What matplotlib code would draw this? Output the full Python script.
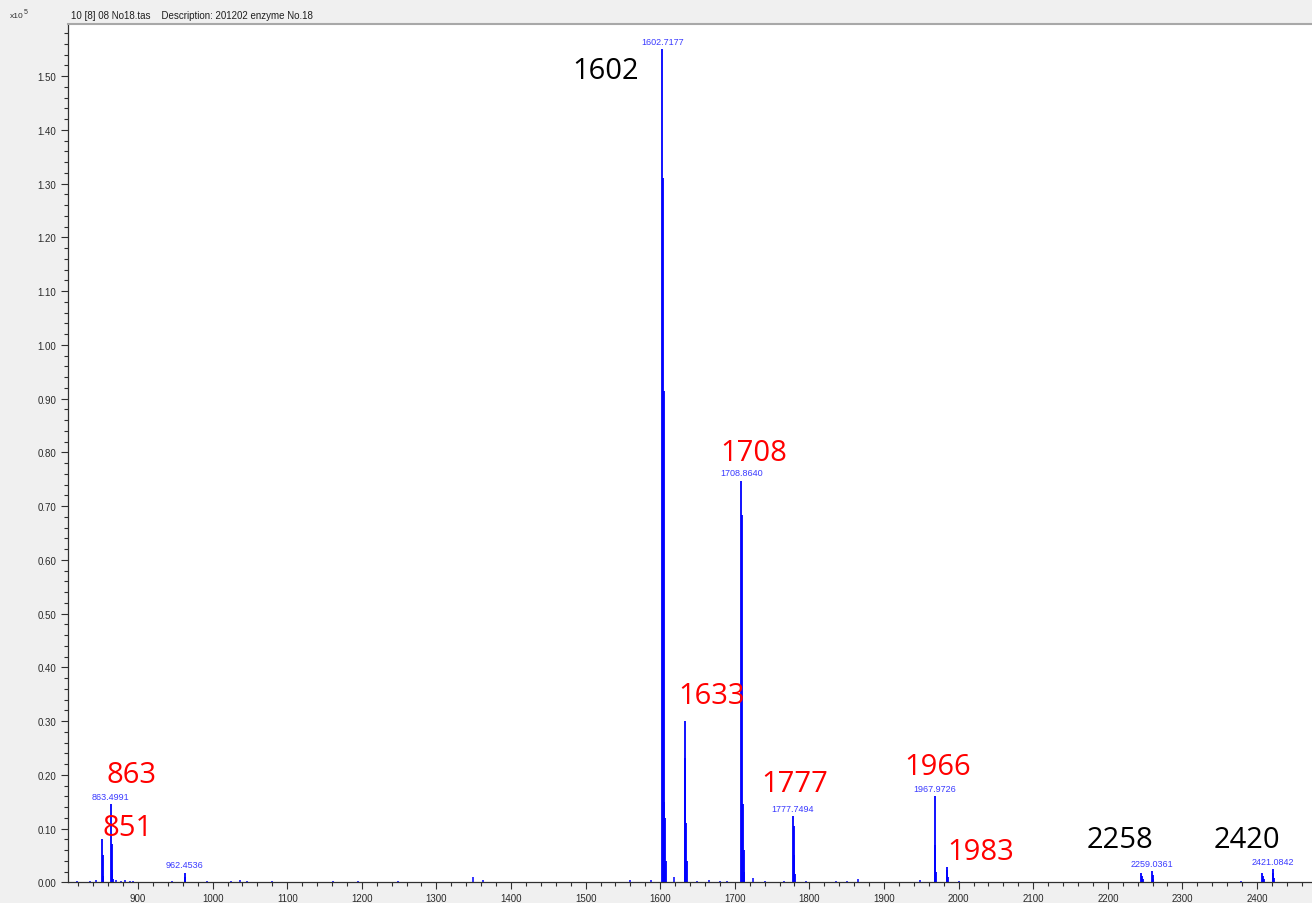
import matplotlib
matplotlib.use("Agg")
import matplotlib.pyplot as plt
from matplotlib.ticker import MultipleLocator, FormatStrFormatter

# ---- spectrum sticks: m/z and intensity (x10^5 counts) ----
peak_mz = [
    851.45, 852.45, 853.45,
    863.4991, 864.50, 865.50, 866.50,
    962.4536, 963.45,
    1602.7177, 1603.72, 1604.72, 1605.72, 1606.72, 1607.72,
    1632.80, 1633.80, 1634.80, 1635.80,
    1708.8640, 1709.86, 1710.86, 1711.86, 1712.86,
    1777.7494, 1778.75, 1779.75, 1780.75,
    1967.9726, 1968.97, 1969.97,
    1983.90, 1984.90, 1985.90,
    2244.90, 2245.90, 2246.90,
    2259.0361, 2260.04, 2261.04,
    2407.10, 2408.10, 2409.10,
    2421.0842, 2422.08, 2423.08,
]
peak_intensity = [
    0.080, 0.050, 0.012,
    0.145, 0.072, 0.022, 0.006,
    0.018, 0.009,
    1.550, 1.310, 0.915, 0.150, 0.120, 0.040,
    0.300, 0.232, 0.110, 0.040,
    0.747, 0.684, 0.145, 0.060, 0.020,
    0.123, 0.104, 0.050, 0.015,
    0.160, 0.069, 0.020,
    0.029, 0.022, 0.010,
    0.018, 0.012, 0.006,
    0.021, 0.014, 0.006,
    0.017, 0.012, 0.006,
    0.024, 0.017, 0.008,
]

# ---- small background signals ----
noise_mz = [818, 835, 844, 871, 877, 883, 889, 893, 945, 992, 1024, 1037,
            1046, 1080, 1162, 1195, 1249, 1349, 1362, 1560, 1587, 1618,
            1649, 1665, 1680, 1690, 1724, 1740, 1766, 1795, 1836, 1851,
            1865, 1948, 2000, 2378]
noise_intensity = [0.003, 0.003, 0.004, 0.004, 0.003, 0.004, 0.003, 0.003,
                   0.003, 0.003, 0.003, 0.004, 0.003, 0.003, 0.002, 0.003,
                   0.003, 0.010, 0.005, 0.004, 0.004, 0.010, 0.003, 0.004,
                   0.003, 0.003, 0.008, 0.003, 0.003, 0.003, 0.003, 0.003,
                   0.006, 0.004, 0.003, 0.003]

# ---- centroid labels printed above peaks ----
labeled_mz = [863.4991, 962.4536, 1602.7177, 1708.8640, 1777.7494,
              1967.9726, 2259.0361, 2421.0842]

# ---- nominal mass annotations ----
annot_text = ["1602", "1708", "1633", "1777", "1966", "1983",
              "863", "851", "2258", "2420"]
annot_color = ["black", "red", "red", "red", "red", "red",
               "red", "red", "black", "black"]
annot_x = [1527.3, 1725.7, 1669.4, 1780.7, 1972.4, 2030.0,
           891.3, 886.6, 2216.4, 2385.9]
annot_y = [1.497, 0.785, 0.334, 0.169, 0.2016, 0.0434,
           0.186, 0.088, 0.0651, 0.0651]

header_text = "10 [8] 08 No18.tas    Description: 201202 enzyme No.18"

small_font = ["Liberation Sans", "DejaVu Sans"]
big_font = ["Open Sans", "Noto Sans", "DejaVu Sans"]

W, H = 1312, 904
fig = plt.figure(figsize=(W / 100, H / 100), dpi=100, facecolor="#f0f0f0")
left_px, top_px, bottom_px = 67.5, 25.0, 883.3
ax = fig.add_axes([left_px / W, (H - bottom_px) / H,
                   1 - left_px / W, (bottom_px - top_px) / H])
ax.set_facecolor("white")

ax.vlines(noise_mz, 0, noise_intensity, colors="#0000ff", linewidth=1.1)
ax.vlines(peak_mz, 0, peak_intensity, colors="#0000ff", linewidth=1.3)

ax.set_xlim(805.5, 2473.7)
ax.set_ylim(0, 1.597)

ax.xaxis.set_major_locator(MultipleLocator(100))
ax.xaxis.set_minor_locator(MultipleLocator(20))
ax.yaxis.set_major_locator(MultipleLocator(0.10))
ax.yaxis.set_minor_locator(MultipleLocator(0.02))
ax.yaxis.set_major_formatter(FormatStrFormatter("%.2f"))
ax.xaxis.set_major_formatter(FormatStrFormatter("%d"))

ax.tick_params(which="major", direction="out", length=5, width=0.8,
               color="#303030", labelcolor="#2a2a2a", labelsize=7, pad=3)
ax.tick_params(which="minor", direction="out", length=3, width=0.8,
               color="#303030")
for lab in ax.get_xticklabels() + ax.get_yticklabels():
    lab.set_family(small_font)

ax.spines["right"].set_visible(False)
ax.spines["top"].set_color("#a8a8a8")
ax.spines["top"].set_linewidth(1.5)
for s in ("left", "bottom"):
    ax.spines[s].set_color("#303030")
    ax.spines[s].set_linewidth(0.9)

# centroid labels above their peaks
for mz in labeled_mz:
    h = peak_intensity[peak_mz.index(mz)]
    ax.annotate(f"{mz:.4f}", xy=(mz, h), xytext=(0, 2.5),
                textcoords="offset points", ha="center", va="bottom",
                fontsize=6.5, color="#3a3aff", family=small_font)

# nominal mass annotations
for t, c, x, y in zip(annot_text, annot_color, annot_x, annot_y):
    ax.text(x, y, t, color=c, fontsize=21, ha="center", va="baseline",
            family=big_font, zorder=5)

# header strip
fig.text(10 / W, 1 - 17 / H, "x10", fontsize=6, color="#303030",
         va="center", ha="left", family=small_font)
fig.text(24 / W, 1 - 13 / H, "5", fontsize=5, color="#303030",
         va="center", ha="left", family=small_font)
fig.text(71 / W, 1 - 16 / H, header_text, fontsize=7, color="#202020",
         va="center", ha="left", family=small_font)

fig.savefig("out.png", dpi=100, facecolor=fig.get_facecolor())
